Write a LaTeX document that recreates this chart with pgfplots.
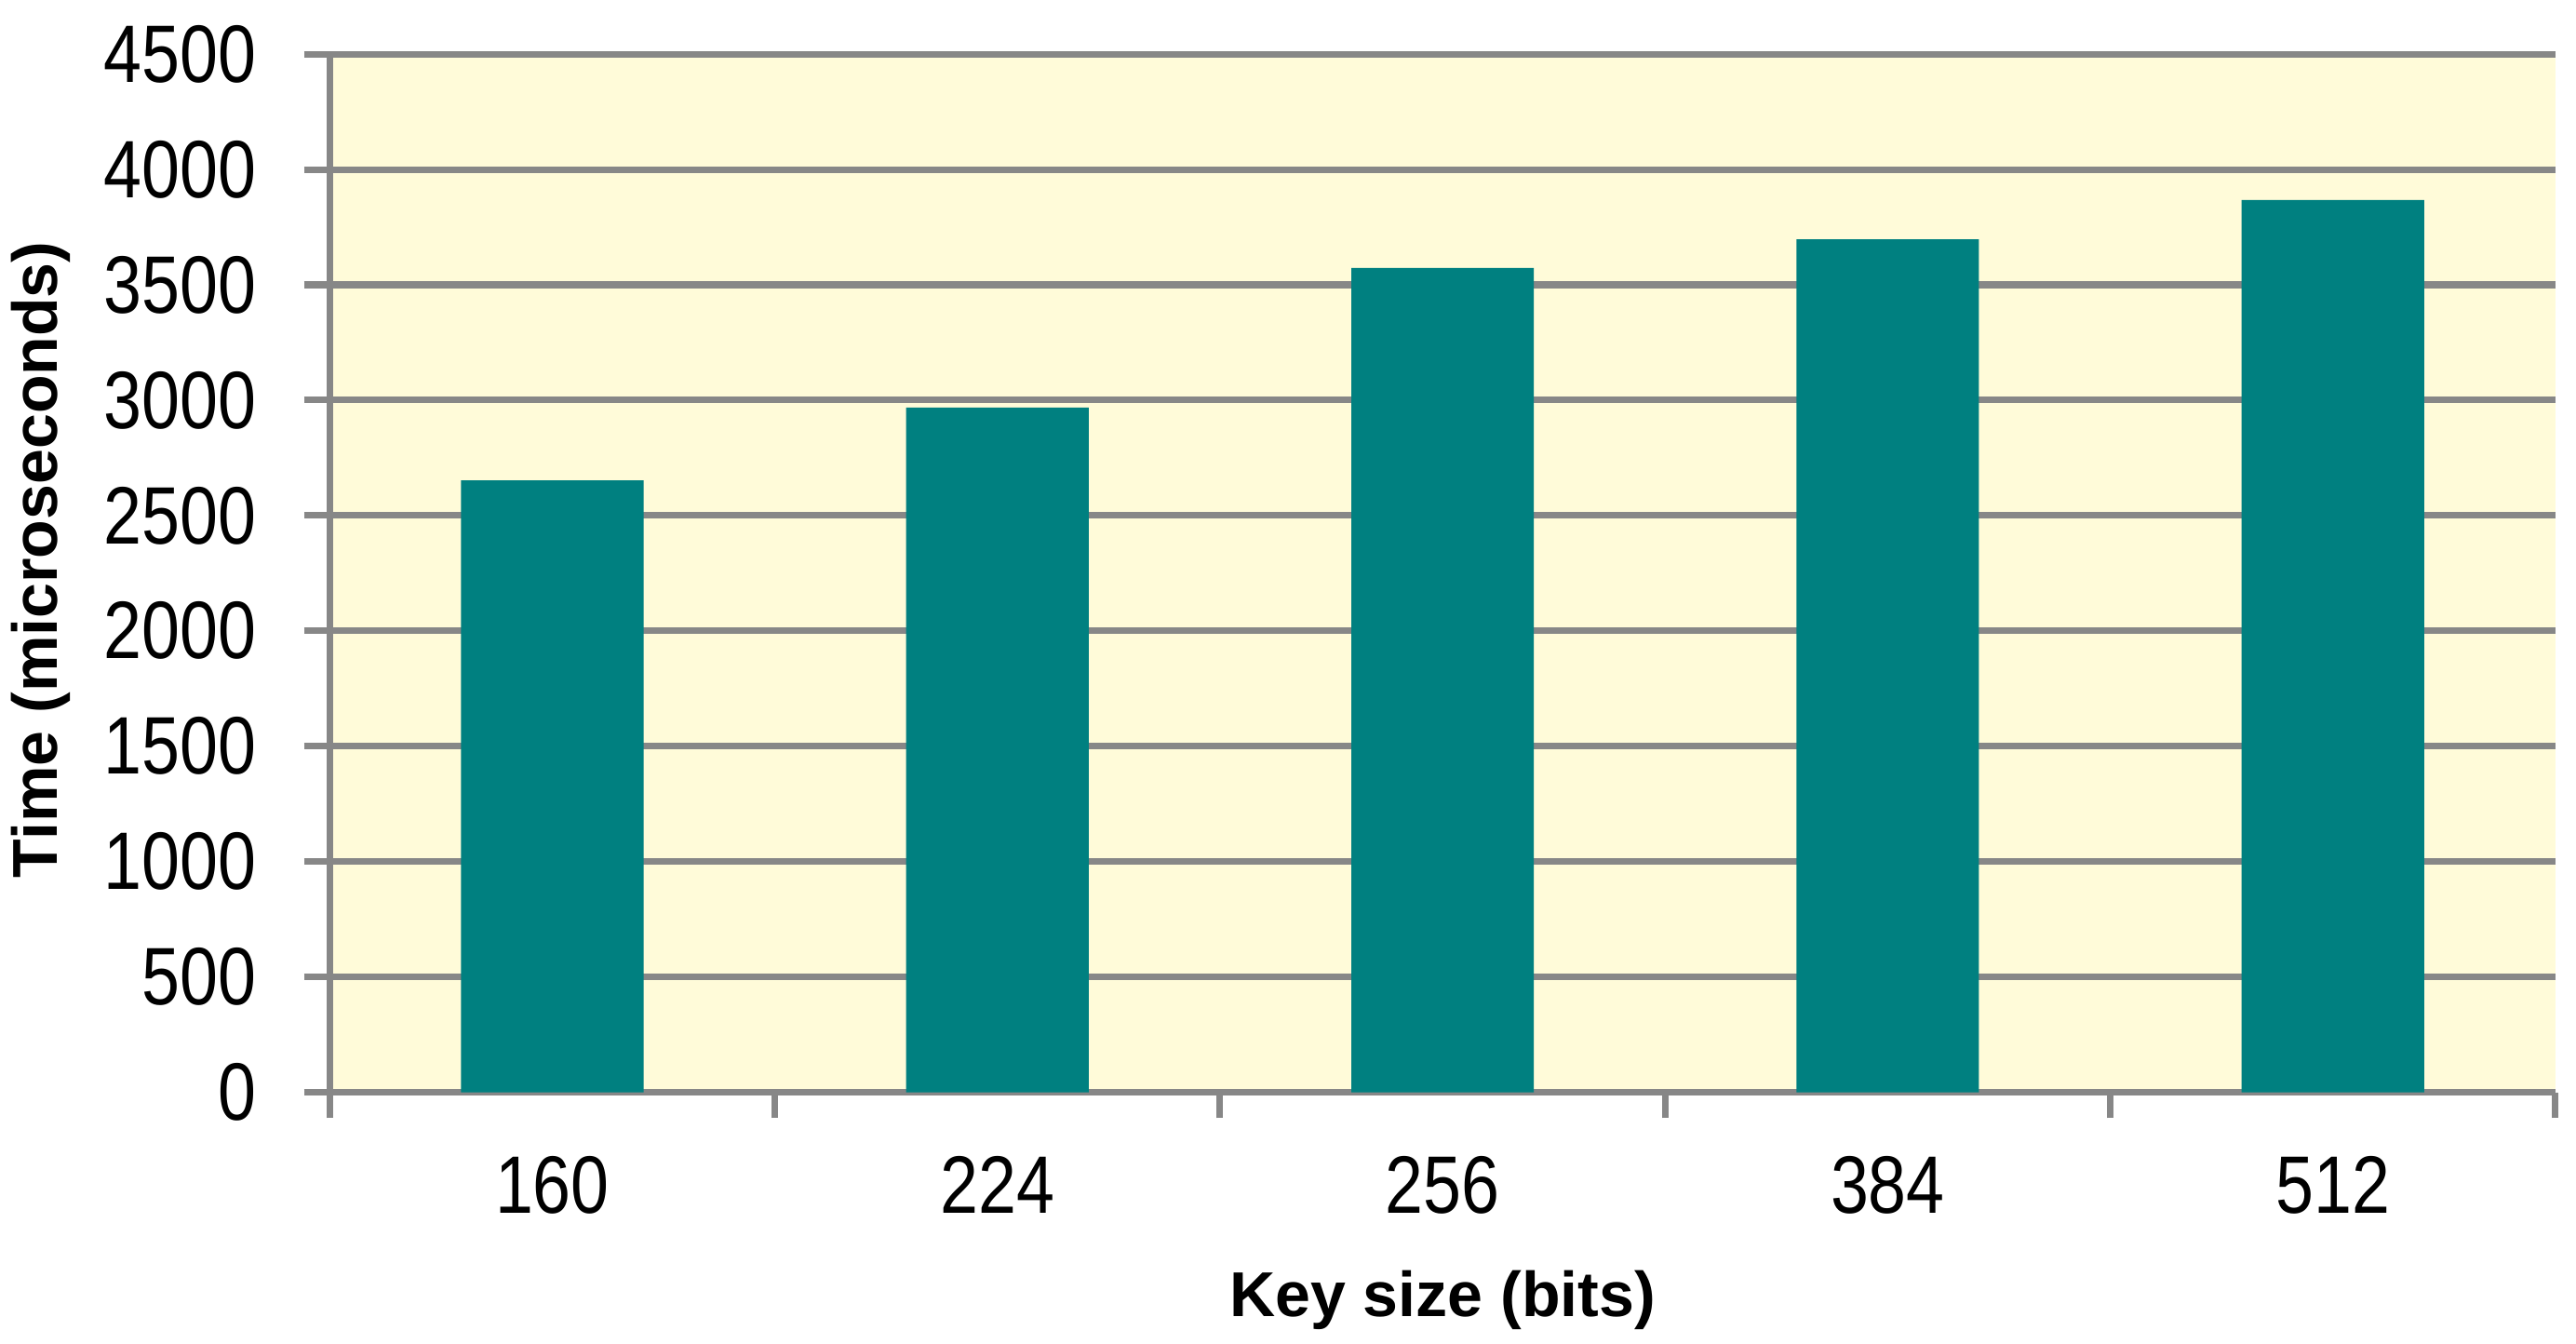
\documentclass[border=0pt]{standalone}
\usepackage{pgfplots}
\pgfplotsset{compat=1.18}
\usepackage{fontspec}
\setmainfont{Liberation Sans}
\newfontfamily\tickfont[FakeStretch=0.84]{Liberation Sans}
\definecolor{barteal}{HTML}{008080}
\definecolor{plotbg}{HTML}{FFFBD9}
\definecolor{gridgray}{HTML}{878787}
\begin{document}
\begin{tikzpicture}
\begin{axis}[
    scale only axis,
    width=17.28cm,
    height=8.06cm,
    xmin=-0.5, xmax=4.5,
    ymin=0, ymax=4500,
    ytick={0,500,...,4500},
    xtick={0,1,2,3,4},
    xticklabels={160,224,256,384,512},
    major tick style={draw=none},
    extra x ticks={-0.5,0.5,1.5,2.5,3.5,4.5},
    extra x tick labels={},
    extra y ticks={0,500,...,4500},
    extra y tick labels={},
    extra tick style={major tick length=0.2cm, tick align=outside,
        major tick style={draw=gridgray, line width=1.45pt}, grid=none},
    axis x line=bottom,
    axis y line=left,
    axis line style={draw=gridgray, line width=1.45pt, -},
    ymajorgrids,
    grid style={draw=gridgray, line width=1.45pt},
    axis background/.style={fill=plotbg},
    /pgf/number format/assume math mode=true,
    /pgf/number format/1000 sep={},
    tick label style={font=\tickfont\fontsize{18}{21}\selectfont},
    yticklabel style={xshift=-0.37cm},
    xticklabel style={yshift=-0.3cm},
    xlabel={Key size (bits)},
    ylabel={Time (microseconds)},
    label style={font=\fontsize{14}{17}\selectfont\bfseries},
    xlabel style={at={(axis description cs:0.5,-0.2)}, anchor=center},
    ylabel style={at={(axis description cs:-0.1296,0.513)}, anchor=center},
    clip=false,
]
\addplot[ybar, bar width=0.41, fill=barteal, draw=none] coordinates {
    (0, 2652)
    (1, 2968)
    (2, 3573)
    (3, 3697)
    (4, 3868)
};
\end{axis}
\pgfresetboundingbox
\path ([shift={(-2.56cm,-1.95cm)}]current axis.south west)
    rectangle ([shift={(0.16cm,0.42cm)}]current axis.north east);
\end{tikzpicture}
\end{document}
